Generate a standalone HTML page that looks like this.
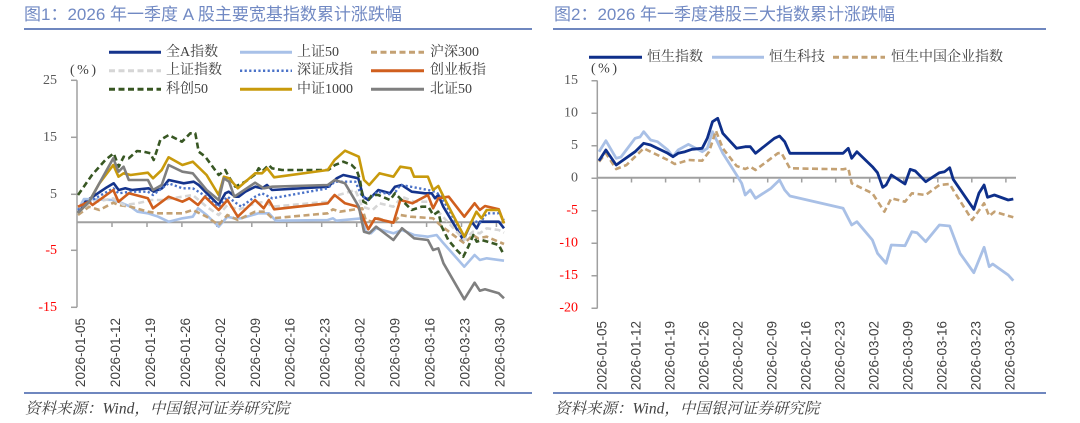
<!DOCTYPE html>
<html><head><meta charset="utf-8">
<style>
html,body{margin:0;padding:0;background:#fff;}
svg{display:block;}
.t{font-family:"Liberation Sans","Noto Sans CJK SC",sans-serif;}
.s{font-family:"Liberation Serif","Noto Serif CJK SC",serif;}
</style></head>
<body>
<svg width="1080" height="423" viewBox="0 0 1080 423" xmlns="http://www.w3.org/2000/svg">
<rect width="1080" height="423" fill="#fff"/>
<!-- Titles -->
<text class="t" x="24" y="20" font-size="17" fill="#7189c3">图1：2026 年一季度 A 股主要宽基指数累计涨跌幅</text>
<text class="t" x="554" y="20" font-size="17" fill="#7189c3">图2：2026 年一季度港股三大指数累计涨跌幅</text>
<rect x="24" y="28" width="508" height="2" fill="#6f87bf"/>
<rect x="553" y="28" width="493" height="2" fill="#6f87bf"/>
<rect x="24" y="392" width="508" height="2" fill="#6f87bf"/>
<rect x="553" y="392" width="493" height="2" fill="#6f87bf"/>
<text class="s" x="25" y="409" font-size="15.5" font-style="italic" fill="#404040" dominant-baseline="central">资料来源：Wind，中国银河证券研究院</text>
<text class="s" x="555" y="409" font-size="15.5" font-style="italic" fill="#404040" dominant-baseline="central">资料来源：Wind，中国银河证券研究院</text>

<!-- LEFT CHART -->
<g fill="none" stroke-linejoin="round">
<!-- legend -->
<line x1="109" y1="52.3" x2="161" y2="52.3" stroke="#15348c" stroke-width="3"/>
<line x1="109" y1="70.7" x2="161" y2="70.7" stroke="#d6d6d6" stroke-width="3" stroke-dasharray="6 3.5"/>
<line x1="109" y1="89.3" x2="161" y2="89.3" stroke="#385723" stroke-width="3" stroke-dasharray="6 3.5"/>
<line x1="240" y1="52.3" x2="292" y2="52.3" stroke="#a8c1e8" stroke-width="3"/>
<line x1="240" y1="70.7" x2="292" y2="70.7" stroke="#4a72c8" stroke-width="2.5" stroke-dasharray="2.2 2.4"/>
<line x1="240" y1="89.3" x2="292" y2="89.3" stroke="#c89a0c" stroke-width="3"/>
<line x1="371" y1="52.3" x2="424" y2="52.3" stroke="#c4a173" stroke-width="3" stroke-dasharray="6 3.5"/>
<line x1="371" y1="70.7" x2="424" y2="70.7" stroke="#d05f1e" stroke-width="3"/>
<line x1="371" y1="89.3" x2="424" y2="89.3" stroke="#7f7f7f" stroke-width="3"/>
</g>
<g class="s" font-size="14" fill="#404040" dominant-baseline="central">
<text x="166" y="52.3">全A指数</text>
<text x="166" y="70.7">上证指数</text>
<text x="166" y="89.3">科创50</text>
<text x="297" y="52.3">上证50</text>
<text x="297" y="70.7">深证成指</text>
<text x="297" y="89.3">中证1000</text>
<text x="430" y="52.3">沪深300</text>
<text x="430" y="70.7">创业板指</text>
<text x="430" y="89.3">北证50</text>
<text x="70" y="70.7" letter-spacing="2.5">(%)</text>
</g>
<!-- y axis -->
<g stroke="#a0a0a0" stroke-width="1.5" fill="none">
<line x1="77" y1="80.3" x2="77" y2="307.3"/>
<line x1="71" y1="80.3" x2="77" y2="80.3"/>
<line x1="71" y1="137.3" x2="77" y2="137.3"/>
<line x1="71" y1="194.3" x2="77" y2="194.3"/>
<line x1="71" y1="250.3" x2="77" y2="250.3"/>
<line x1="71" y1="307.3" x2="77" y2="307.3"/>
</g>
<g class="s" font-size="14" text-anchor="end" dominant-baseline="central">
<text x="57" y="80.3" fill="#595959">25</text>
<text x="57" y="137.3" fill="#595959">15</text>
<text x="57" y="194.3" fill="#595959">5</text>
<text x="57" y="250.3" fill="#ff0000">-5</text>
<text x="57" y="307.3" fill="#ff0000">-15</text>
</g>
<!-- zero line & ticks -->
<g stroke="#a0a0a0" fill="none">
<line x1="77" y1="222.3" x2="505" y2="222.3" stroke-width="2"/>
<path stroke-width="1.5" d="M112,222 v5 M147,222 v5 M181.9,222 v5 M216.8,222 v5 M251.8,222 v5 M286.7,222 v5 M321.7,222 v5 M356.7,222 v5 M391.6,222 v5 M426.6,222 v5 M461.5,222 v5 M496.4,222 v5"/>
</g>
<g class="t" font-size="13.5" fill="#404040" text-anchor="end" dominant-baseline="central">
<text transform="translate(80.5,318) rotate(-90)">2026-01-05</text>
<text transform="translate(115.5,318) rotate(-90)">2026-01-12</text>
<text transform="translate(150.4,318) rotate(-90)">2026-01-19</text>
<text transform="translate(185.4,318) rotate(-90)">2026-01-26</text>
<text transform="translate(220.3,318) rotate(-90)">2026-02-02</text>
<text transform="translate(255.3,318) rotate(-90)">2026-02-09</text>
<text transform="translate(290.2,318) rotate(-90)">2026-02-16</text>
<text transform="translate(325.2,318) rotate(-90)">2026-02-23</text>
<text transform="translate(360.1,318) rotate(-90)">2026-03-02</text>
<text transform="translate(395.1,318) rotate(-90)">2026-03-09</text>
<text transform="translate(430,318) rotate(-90)">2026-03-16</text>
<text transform="translate(465,318) rotate(-90)">2026-03-23</text>
<text transform="translate(499.9,318) rotate(-90)">2026-03-30</text>
</g>
<!-- series -->
<g fill="none" stroke-linejoin="round">
<polyline stroke="#15348c" stroke-width="2.6" points="78,213 85.3,201.7 95.3,195 105.3,188.3 113.7,183.3 118.7,190 125.3,188.3 132,190 148.7,188.3 153.7,191.7 162,188.3 168.7,180 183.7,183.3 193.7,181.7 198.7,185 205.3,191.7 218.7,205 225.3,193.3 228.7,191.7 235.3,196.7 238.7,196.7 245.3,191.7 255.3,186.7 262,188.3 267,185 272,190 328.3,186.7 336.7,178.3 343.3,175 358.3,178.3 363.3,196.7 368.3,200 378.3,190 390,193.3 395,186.7 401.7,185 411.7,191.7 425,193.3 431.7,193.3 435,198.3 438.3,195 443.3,206.7 463.3,240 471.7,221.7 476.7,228.3 480,221.7 498.8,221.7 504,228.3"/>
<polyline stroke="#a8c1e8" stroke-width="2.6" points="78,210 84,199 113.3,200 118.5,201.7 130.6,206.7 137.5,211.7 147.9,213.3 158.2,216.7 168.6,221.7 182.4,218.3 192.8,216.7 198,208.3 206.6,215 218.7,226.7 227.4,216.7 234.3,218.3 241.2,218.3 258.5,213.3 268.9,213.3 275.8,220.7 327.7,220 332.9,218.3 336.3,220.7 362.2,218.3 365.7,231.7 370.9,233.3 376.1,228.3 393.4,233.3 402,230 414.1,235 427.9,236.7 436.6,235 443.5,243.3 464.3,266.7 474.6,255 479.8,260 486.7,258.3 504,260.7"/>
<polyline stroke="#c4a173" stroke-width="2.6" stroke-dasharray="6 3.5" points="78,215 89.1,206.7 99.4,210 113.3,202.7 118.5,205 130.6,206.7 147.9,211.7 158.2,213.3 182.4,213.3 192.8,210 206.6,216.7 218.7,225 227.4,215 237.8,220 255.1,211.7 265.4,211.7 272.3,218.3 327.7,213.3 332.9,209.3 339.8,211.7 362.2,208.3 365.7,220 372.6,221.7 377.8,218.3 393.4,223.3 400.3,215 410.7,216.7 433.1,218.3 440.1,225 464.3,243.3 472.9,235 478.1,238.3 486.7,236.7 504,244"/>
<polyline stroke="#d6d6d6" stroke-width="2.6" stroke-dasharray="6 3.5" points="78,213 89.1,203.3 113.3,198.3 123.6,205 137.5,203.3 151.3,200 161.7,200 182.4,196.7 192.8,195 206.6,206.7 218.7,215 227.4,205 237.8,210 255.1,203.3 265.4,201.7 272.3,206.7 327.7,201.7 332.9,196.7 355.3,190 362.2,206.7 372.6,210 379.5,203.3 393.4,206.7 402,196.7 414.1,201.7 427.9,201.7 438.3,211.7 464.3,240 472.9,231.7 479.8,233.3 486.7,228.3 498.8,230 504,232.7"/>
<polyline stroke="#4a72c8" stroke-width="2.4" stroke-dasharray="2.2 2.4" points="78,210 89.1,201.7 113.3,188.3 118.5,193.3 130.6,191.7 147.9,191.7 153,195 168.6,183.3 182.4,188.3 192.8,188.3 206.6,196.7 218.7,206.7 227.4,196.7 241.2,206.7 255.1,196.7 262,193.3 272.3,198.3 327.7,188.3 334.6,181.7 355.3,181.7 362.2,196.7 369.2,198.3 377.8,191.7 393.4,195 400.3,185 410.7,186.7 427.9,190 434.9,191.7 440.1,195 464.3,236.7 472.9,220 479.8,223.3 486.7,213.3 498.8,213.3 504,220"/>
<polyline stroke="#d05f1e" stroke-width="2.6" points="78,206.7 89.1,201.7 92.5,205 113.3,190 118.5,201.7 128.8,193.3 147.9,198.3 153,208.3 168.6,196.7 182.4,201.7 189.3,198.3 198,205 204.9,196.7 218.7,210 227.4,200 237.8,216.7 255.1,200 263.7,208.3 268.9,200 274.1,209.3 327.7,203.3 334.6,195 345,203.3 358,206.7 368.3,229.3 375,218.3 393.4,222.7 400.3,200 412.4,203.3 427.9,195 433.1,208.3 438.3,198.3 448.7,196.7 464.3,216.7 474.6,203.3 479.8,210 485,206 498.8,209.3 504,223.3"/>
<polyline stroke="#385723" stroke-width="2.6" stroke-dasharray="6 3.5" points="78,195 92,175 105.3,160 113.7,153.3 118.7,166.7 123.7,156.7 128.7,158.3 137,151 143.7,151.7 150.3,153.3 153.7,160 160.3,140 168.7,135 182,141.7 190.3,133.3 195.3,133.3 198.7,151.7 205.3,156.7 218.7,175 225.3,170 228.7,176.7 235.3,186.7 245.3,181.7 255.3,174.3 258.7,168.3 262,171.7 268.7,165 272,168.3 282,170 328.3,170 335,165 343.3,161.7 351.7,165 356.7,170 360,180 363.3,201.7 366.7,203.3 371.7,195 378.3,195 390,200 395,193.3 401.7,200 411.7,210 421.7,206.7 428.3,206.7 433.3,215 438.3,211.7 441.7,226.7 448.3,240 456.7,250 463.3,256.7 468.3,246.7 473.3,235 476.7,241.7 481.7,240 498.8,245 504,255"/>
<polyline stroke="#c89a0c" stroke-width="2.6" points="78,213 89.1,201.7 99.4,183.3 113.3,165 118.5,176.7 123.6,173.3 130.6,175 147.9,172.7 153,178.3 161.7,170 168.6,157.3 182.4,165 192.8,161.7 206.6,175 218.7,195 223.9,176.7 229.1,178.3 237.8,188.3 255.1,173.3 262,173.3 267.2,168.3 274.1,177.3 327.7,170 334.6,160 345,150.7 358.8,156.7 364,180 369.2,185 379.5,173.3 393.4,176.7 400.3,166.7 410.7,168.3 414.1,176.7 427.9,176.7 433.1,190 438.3,186 445.2,200 464.3,236.7 476.4,211.7 481.5,218.3 486.7,210 498.8,210 504,223.3"/>
<polyline stroke="#7f7f7f" stroke-width="2.6" points="78,213 89.1,201.7 113.3,158.3 118.5,171.7 123.6,166.7 128.8,180 147.9,180 153,190 161.7,185 168.6,165 182.4,171.7 192.8,173.3 206.6,190 218.7,200 223.9,178.3 229.1,181.7 234.3,196.7 255.1,182.7 263.7,188.3 272.3,186.7 327.7,185 334.6,180 345,183.3 358.8,206.7 364,231.7 369.2,233.3 376.1,226.7 393.4,240 402,228.3 414.1,238.3 427.9,240 433.1,250 438.3,248.3 443.5,263.3 464.3,299.3 474.6,282.7 479.8,290.7 485,289.3 498.8,293.3 504,298.3"/>
</g>

<!-- RIGHT CHART -->
<g fill="none">
<line x1="589" y1="57.3" x2="642" y2="57.3" stroke="#0e2f8a" stroke-width="3"/>
<line x1="712" y1="57.3" x2="764" y2="57.3" stroke="#a9c0e6" stroke-width="3"/>
<line x1="833" y1="57.3" x2="885" y2="57.3" stroke="#c4a173" stroke-width="3" stroke-dasharray="6 3.5"/>
</g>
<g class="s" font-size="14" fill="#404040" dominant-baseline="central">
<text x="647" y="57.3">恒生指数</text>
<text x="769" y="57.3">恒生科技</text>
<text x="891" y="57.3">恒生中国企业指数</text>
<text x="591" y="69" letter-spacing="2.5">(%)</text>
</g>
<g stroke="#a0a0a0" stroke-width="1.5" fill="none">
<line x1="597.3" y1="80.7" x2="597.3" y2="308.2"/>
<path d="M591.5,80.7 h6 M591.5,113.2 h6 M591.5,145.7 h6 M591.5,178.2 h6 M591.5,210.7 h6 M591.5,243.2 h6 M591.5,275.7 h6 M591.5,308.2 h6"/>
</g>
<g class="s" font-size="14" text-anchor="end" dominant-baseline="central">
<text x="578" y="80.7" fill="#595959">15</text>
<text x="578" y="113.2" fill="#595959">10</text>
<text x="578" y="145.7" fill="#595959">5</text>
<text x="578" y="178.2" fill="#595959">0</text>
<text x="578" y="210.7" fill="#ff0000">-5</text>
<text x="578" y="243.2" fill="#ff0000">-10</text>
<text x="578" y="275.7" fill="#ff0000">-15</text>
<text x="578" y="308.2" fill="#ff0000">-20</text>
</g>
<g stroke="#a0a0a0" fill="none">
<line x1="597.3" y1="177.7" x2="1016" y2="177.7" stroke-width="2"/>
<path stroke-width="1.5" d="M631.5,177.5 v5 M665.6,177.5 v5 M699.6,177.5 v5 M733.6,177.5 v5 M767.7,177.5 v5 M801.7,177.5 v5 M835.7,177.5 v5 M869.7,177.5 v5 M903.8,177.5 v5 M937.8,177.5 v5 M971.8,177.5 v5 M1005.9,177.5 v5"/>
</g>
<g class="t" font-size="13.5" fill="#404040" text-anchor="end" dominant-baseline="central">
<text transform="translate(602,321) rotate(-90)">2026-01-05</text>
<text transform="translate(636,321) rotate(-90)">2026-01-12</text>
<text transform="translate(670,321) rotate(-90)">2026-01-19</text>
<text transform="translate(703.9,321) rotate(-90)">2026-01-26</text>
<text transform="translate(737.9,321) rotate(-90)">2026-02-02</text>
<text transform="translate(771.9,321) rotate(-90)">2026-02-09</text>
<text transform="translate(805.9,321) rotate(-90)">2026-02-16</text>
<text transform="translate(839.9,321) rotate(-90)">2026-02-23</text>
<text transform="translate(873.8,321) rotate(-90)">2026-03-02</text>
<text transform="translate(907.8,321) rotate(-90)">2026-03-09</text>
<text transform="translate(941.8,321) rotate(-90)">2026-03-16</text>
<text transform="translate(975.8,321) rotate(-90)">2026-03-23</text>
<text transform="translate(1009.8,321) rotate(-90)">2026-03-30</text>
</g>
<g fill="none" stroke-linejoin="round">
<polyline stroke="#a9c0e6" stroke-width="2.8" points="599,151.7 605.9,140.7 616.2,158.3 621,157 635.1,138.3 640,137 643.7,131.7 650.6,140 657.5,141.7 667.8,150 673,156.7 678.1,150 688.4,144.3 702.2,151.7 707.3,148.3 712.5,131.7 722.8,153.3 736.6,175 741.7,183.3 745.2,195 750.3,190 755.5,198.3 771,188.3 779.5,180 784.7,190 789.9,196 843.1,208.3 851.7,225 856.9,221.7 872.4,240 877.5,253.3 886.1,263.3 891.3,245 905,245.7 911.9,231.7 917,232.7 925.7,241.7 939.4,225 949.7,226 960,253.3 973.8,272.7 984.1,247.3 989.2,266.7 992.7,264 1008.2,275 1013.3,280.7"/>
<polyline stroke="#c4a173" stroke-width="2.6" stroke-dasharray="6 3.5" points="599,161.7 605.9,153.3 616.2,169 626.5,165 643.7,148.3 650.6,151.7 667.8,160 674.7,164 678.1,163.3 688.4,160 702.2,160.7 709.1,151.7 715.9,130.7 722.8,148.3 736.6,166 745.2,169 750.3,166.7 755.5,170 777.8,153.3 781.3,152.7 789.9,168.3 843.1,169.3 848.3,168.3 851.7,183.3 862,188.3 872.4,193.3 884.4,211.7 891.3,198.3 905,201.7 911.9,193.3 925.7,195 939.4,185 949.7,184 953.2,190 972.1,220 984.1,203.3 989.2,216 994.4,211.7 1013.3,217.3"/>
<polyline stroke="#0e2f8a" stroke-width="2.8" points="599,160.7 605.9,150 616.2,165 635.1,151.7 643.7,143.3 650.6,145 667.8,153.3 673,156.7 678.1,153.3 685,151.7 691.9,149.3 702.2,148.3 707.3,138.3 712.5,121.7 717.7,118.3 722.8,133.3 736.6,148.3 745.2,146.7 750.3,146.7 755.5,153.3 774.4,138.3 779.5,136 784.7,141.7 789.9,153.3 843.1,153.3 848.3,148.3 851.7,158.3 856.9,151.7 872.4,166.7 877.5,172.7 882.7,187.3 886.1,185 891.3,175 905,184 910.2,169.3 915.3,171 925.7,181.7 939.4,172.7 944.6,171.7 949.7,167.7 953.2,179.3 973.8,209.3 978.9,193.3 984.1,185 987.5,197.3 994.4,195 1008.2,200 1013.3,199"/>
</g>
</svg>
</body></html>
